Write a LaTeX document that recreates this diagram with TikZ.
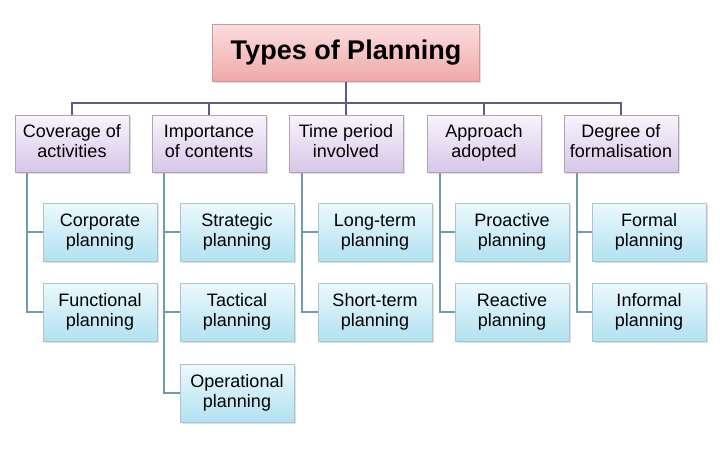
\documentclass[tikz,border=0pt]{standalone}
\usepackage{fontspec}
\setmainfont{Liberation Sans}
\usetikzlibrary{shadows}
\definecolor{busline}{HTML}{5C5C86}
\definecolor{subline}{HTML}{6E9CAA}
\definecolor{pinktop}{RGB}{252,222,222}
\definecolor{pinkbot}{RGB}{240,168,168}
\definecolor{lavtop}{RGB}{248,244,252}
\definecolor{lavbot}{RGB}{214,198,232}
\definecolor{bluetop}{RGB}{236,249,253}
\definecolor{bluebot}{RGB}{178,225,241}
\tikzset{
  titlebox/.style={draw=red!30!gray!60, top color=pinktop, bottom color=pinkbot,
    minimum width=267pt, minimum height=57pt, drop shadow={opacity=0.25, shadow xshift=1.5pt, shadow yshift=-1.5pt},
    font=\fontsize{27}{30}\selectfont\bfseries},
  catbox/.style={draw=violet!20!gray!60, top color=lavtop, bottom color=lavbot,
    minimum width=114pt, minimum height=57pt, align=center, inner sep=1pt,
    drop shadow={opacity=0.25, shadow xshift=1.5pt, shadow yshift=-1.5pt},
    font=\fontsize{18}{20}\selectfont},
  subbox/.style={draw=cyan!30!gray!60, top color=bluetop, bottom color=bluebot,
    minimum width=114pt, minimum height=58pt, align=center, inner sep=1pt,
    drop shadow={opacity=0.25, shadow xshift=1.5pt, shadow yshift=-1.5pt},
    font=\fontsize{18}{20}\selectfont},
}
\begin{document}
\begin{tikzpicture}[x=1pt, y=-1pt]
\useasboundingbox (0,0) rectangle (720,450);
\node[titlebox] (title) at (346, 53) {Types of Planning};
\coordinate (bus) at (0, 103);
\node[catbox] (cover) at (72, 144) {Coverage of\\activities\strut};
\node[catbox] (import) at (209, 144) {Importance\\of contents\strut};
\node[catbox] (time) at (346, 144) {Time period\\involved\strut};
\node[catbox] (approach) at (484, 144) {Approach\\adopted\strut};
\node[catbox] (degree) at (621, 144) {Degree of\\formalisation\strut};
\node[subbox] (corp) at (100, 232) {Corporate\\planning};
\node[subbox] (func) at (100, 312) {Functional\\planning};
\node[subbox] (strat) at (237, 232) {Strategic\\planning};
\node[subbox] (tact) at (237, 312) {Tactical\\planning};
\node[subbox] (oper) at (237, 393) {Operational\\planning};
\node[subbox] (long) at (375, 232) {Long-term\\planning};
\node[subbox] (short) at (375, 312) {Short-term\\planning};
\node[subbox] (proact) at (512, 232) {Proactive\\planning};
\node[subbox] (react) at (512, 312) {Reactive\\planning};
\node[subbox] (formal) at (649, 232) {Formal\\planning};
\node[subbox] (informal) at (649, 312) {Informal\\planning};
% tree to the categories
\draw[busline, line width=1.5pt] (title.south) -- (title.south |- bus);
\draw[busline, line width=1.5pt] (cover.north) -- (cover.north |- bus) -- (degree.north |- bus) -- (degree.north);
\draw[busline, line width=1.5pt] (import.north) -- (import.north |- bus);
\draw[busline, line width=1.5pt] (time.north) -- (time.north |- bus);
\draw[busline, line width=1.5pt] (approach.north) -- (approach.north |- bus);
% category to its planning types
\draw[subline, line width=1.5pt] ([xshift=12pt]cover.south west) |- (corp.west);
\draw[subline, line width=1.5pt] ([xshift=12pt]cover.south west) |- (func.west);
\draw[subline, line width=1.5pt] ([xshift=12pt]import.south west) |- (strat.west);
\draw[subline, line width=1.5pt] ([xshift=12pt]import.south west) |- (tact.west);
\draw[subline, line width=1.5pt] ([xshift=12pt]import.south west) |- (oper.west);
\draw[subline, line width=1.5pt] ([xshift=13pt]time.south west) |- (long.west);
\draw[subline, line width=1.5pt] ([xshift=13pt]time.south west) |- (short.west);
\draw[subline, line width=1.5pt] ([xshift=13pt]approach.south west) |- (proact.west);
\draw[subline, line width=1.5pt] ([xshift=13pt]approach.south west) |- (react.west);
\draw[subline, line width=1.5pt] ([xshift=13pt]degree.south west) |- (formal.west);
\draw[subline, line width=1.5pt] ([xshift=13pt]degree.south west) |- (informal.west);
\end{tikzpicture}
\end{document}
